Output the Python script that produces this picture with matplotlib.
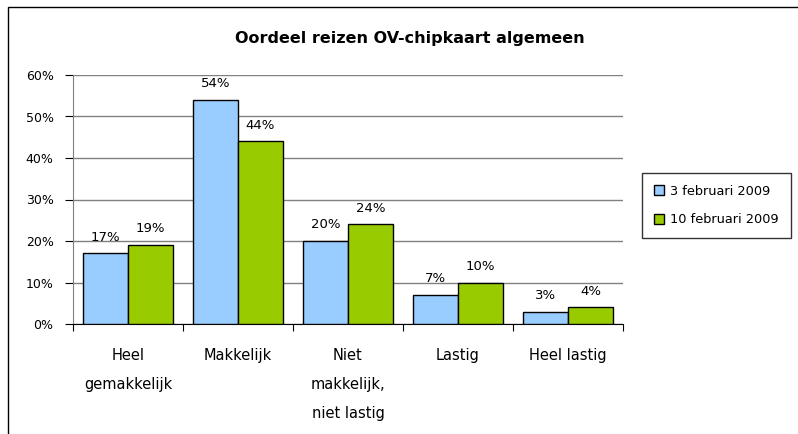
import matplotlib.pyplot as plt
import matplotlib.patches as patches
import numpy as np

categories = ["Heel\ngemakkelijk", "Makkelijk", "Niet\nmakkelijk,\nniet lastig", "Lastig", "Heel lastig"]
feb3 = [17, 54, 20, 7, 3]
feb10 = [19, 44, 24, 10, 4]
series_names = ["3 februari 2009", "10 februari 2009"]

plt.rcParams['font.family'] = ['DejaVu Sans']

fig = plt.figure(figsize=(7.98, 4.34), dpi=100)
ax = fig.add_axes([73 / 798, 110 / 434, 550 / 798, 249 / 434])

# outer chart frame (cropped on right and bottom)
fig.patches.append(patches.Rectangle((8 / 798, -0.1), 1.2, 1 - 7 / 434 + 0.1,
                                     transform=fig.transFigure, fill=False,
                                     edgecolor='black', linewidth=1.0))

x = np.arange(len(categories))
w = 0.41
b1 = ax.bar(x - w / 2, feb3, w, color='#99CCFF', edgecolor='black', linewidth=1.0,
            label=series_names[0], zorder=3)
b2 = ax.bar(x + w / 2, feb10, w, color='#99CC00', edgecolor='black', linewidth=1.0,
            label=series_names[1], zorder=3)

for bars, vals in [(b1, feb3), (b2, feb10)]:
    for bar, v in zip(bars, vals):
        ax.annotate(f"{v}%", (bar.get_x() + bar.get_width() / 2, v),
                    xytext=(0, 7), textcoords='offset points',
                    ha='center', va='bottom', fontsize=9.5)

ax.set_xlim(-0.5, len(categories) - 0.5)
ax.set_ylim(0, 60)
ax.set_yticks(range(0, 61, 10))
ax.set_yticklabels([f"{t}%" for t in range(0, 61, 10)], fontsize=9)
ax.yaxis.grid(True, color='#808080', linewidth=1.0, zorder=0)

ax.set_xticks(np.arange(-0.5, len(categories), 1.0))
ax.set_xticklabels([])
ax.tick_params(axis='x', length=5, color='black')
ax.tick_params(axis='y', length=6, color='black', pad=8)
for i, c in enumerate(categories):
    ax.text(i, -0.095, c, transform=ax.get_xaxis_transform(), ha='center', va='top',
            fontsize=10.5, linespacing=2.2)

for s in ['top', 'right']:
    ax.spines[s].set_visible(False)
ax.spines['left'].set_color('#808080')
ax.spines['bottom'].set_color('black')

fig.text(410 / 798, 1 - 38 / 434, "Oordeel reizen OV-chipkaart algemeen",
         ha='center', va='center', fontsize=11.5, fontweight='bold')

leg = fig.legend(loc='upper left', bbox_to_anchor=(642 / 798, 1 - 173 / 434),
                 fontsize=9.3, frameon=True, fancybox=False, edgecolor='black',
                 handlelength=0.8, handleheight=0.8, handletextpad=0.5,
                 borderpad=0.9, labelspacing=1.2, borderaxespad=0)
leg.get_frame().set_linewidth(1.0)

fig.savefig("out.png", dpi=100)
